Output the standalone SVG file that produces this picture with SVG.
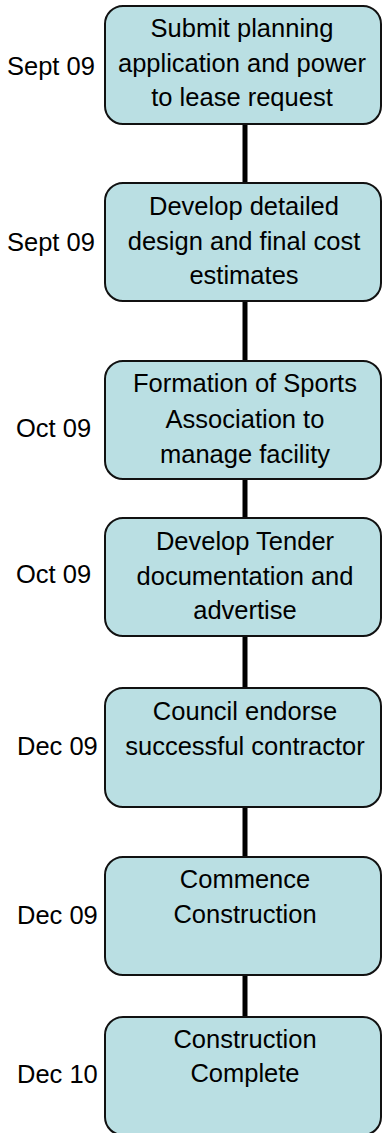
<svg xmlns="http://www.w3.org/2000/svg" width="383" height="1133" viewBox="0 0 383 1133">
<style>
.box{fill:#badfe3;stroke:#111;stroke-width:2}
.t{font-family:"Liberation Sans",Arial,sans-serif;font-size:25.5px;fill:#000;text-anchor:middle}
.d{font-family:"Liberation Sans",Arial,sans-serif;font-size:25.5px;fill:#000}
.c{stroke:#000;stroke-width:5;fill:none}
</style>
<rect width="383" height="1133" fill="#fff"/>
<g id="connectors">
<line class="c" x1="245" y1="124" x2="245" y2="183"/>
<line class="c" x1="245" y1="301" x2="245" y2="361"/>
<line class="c" x1="245" y1="479" x2="245" y2="518"/>
<line class="c" x1="245" y1="636" x2="245" y2="688"/>
<line class="c" x1="245" y1="807" x2="245" y2="857"/>
<line class="c" x1="245" y1="975" x2="245" y2="1017"/>
</g>
<g id="n1">
<rect class="box" x="105" y="6" width="276" height="118" rx="18"/>
<text class="t" x="242" y="37">Submit planning</text>
<text class="t" x="242" y="72">application and power</text>
<text class="t" x="242" y="106">to lease request</text>
<text class="d" x="7" y="75">Sept 09</text>
</g>
<g id="n2">
<rect class="box" x="105" y="183" width="276" height="118" rx="18"/>
<text class="t" x="244" y="215">Develop detailed</text>
<text class="t" x="244" y="250">design and final cost</text>
<text class="t" x="244" y="284">estimates</text>
<text class="d" x="7" y="251">Sept 09</text>
</g>
<g id="n3">
<rect class="box" x="105" y="361" width="276" height="118" rx="18"/>
<text class="t" x="245" y="392">Formation of Sports</text>
<text class="t" x="245" y="428">Association to</text>
<text class="t" x="245" y="463">manage facility</text>
<text class="d" x="16" y="437">Oct 09</text>
</g>
<g id="n4">
<rect class="box" x="105" y="518" width="276" height="118" rx="18"/>
<text class="t" x="245" y="550">Develop Tender</text>
<text class="t" x="245" y="585">documentation and</text>
<text class="t" x="245" y="619">advertise</text>
<text class="d" x="16" y="583">Oct 09</text>
</g>
<g id="n5">
<rect class="box" x="105" y="688" width="276" height="119" rx="18"/>
<text class="t" x="245" y="720">Council endorse</text>
<text class="t" x="245" y="755">successful contractor</text>
<text class="d" x="17" y="755">Dec 09</text>
</g>
<g id="n6">
<rect class="box" x="105" y="857" width="276" height="118" rx="18"/>
<text class="t" x="245" y="888">Commence</text>
<text class="t" x="245" y="923">Construction</text>
<text class="d" x="17" y="924">Dec 09</text>
</g>
<g id="n7">
<rect class="box" x="105" y="1017" width="276" height="118" rx="18"/>
<text class="t" x="245" y="1048">Construction</text>
<text class="t" x="245" y="1082">Complete</text>
<text class="d" x="17" y="1083">Dec 10</text>
</g>
</svg>
